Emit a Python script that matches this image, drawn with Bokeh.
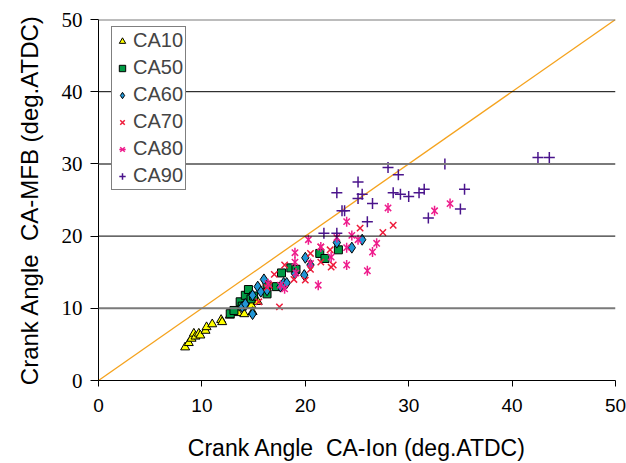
import math
from bokeh.plotting import figure
from bokeh.models import Range1d, Span, Legend, LegendItem, FixedTicker
from bokeh.embed import file_html
from bokeh.resources import INLINE

# Crank angle of ignition (x) vs crank angle of mass-fraction-burned points (y)
ca10_x = [8.38, 8.73, 9.0, 9.22, 9.38, 9.7, 9.85, 10.35, 10.45, 11.0, 11.86, 11.96, 12.7, 13.5, 14.1, 14.8, 14.9, 15.4]
ca10_y = [4.6, 5.2, 5.8, 6.5, 6.1, 6.5, 6.25, 6.9, 7.4, 7.8, 8.4, 8.1, 9.0, 9.35, 9.2, 10.4, 9.5, 10.9]

ca50_x = [12.74, 13.1, 13.7, 13.9, 14.2, 14.5, 14.75, 15.0, 16.3, 16.3, 17.2, 17.7, 18.6, 19.1, 21.4, 21.9, 23.2]
ca50_y = [9.26, 9.7, 10.9, 10.3, 11.8, 12.6, 11.3, 11.7, 12.0, 13.2, 13.0, 14.9, 15.6, 15.4, 17.6, 16.9, 18.1]

ca60_x = [13.9, 14.2, 14.9, 14.9, 15.4, 15.7, 16.0, 16.3, 17.6, 17.9, 18.2, 19.0, 19.9, 20.0, 20.5, 23.05, 24.5, 25.5]
ca60_y = [10.2, 10.6, 9.2, 11.8, 13.0, 12.3, 14.0, 12.5, 13.0, 13.5, 13.5, 14.8, 14.6, 17.0, 16.0, 19.1, 18.4, 19.5]

ca70_x = [15.5, 16.3, 16.5, 17.0, 17.5, 18.0, 18.9, 20.0, 20.5, 20.5, 21.5, 21.5, 22.4, 22.5, 22.7, 25.3, 27.5, 28.5]
ca70_y = [10.9, 12.9, 13.2, 14.7, 10.2, 16.0, 14.0, 13.9, 15.4, 17.6, 16.4, 18.5, 18.1, 15.7, 16.0, 21.1, 20.5, 21.5]

ca80_x = [16.4, 17.6, 18.0, 19.0, 19.0, 19.1, 20.3, 20.5, 21.25, 21.5, 22.5, 23.05, 24.0, 24.0, 24.0, 24.5, 25.1, 26.0, 26.5, 26.9, 28.0, 32.5, 34.0]
ca80_y = [13.4, 13.2, 12.7, 17.7, 16.4, 14.9, 19.5, 16.2, 13.2, 18.5, 17.1, 19.8, 22.0, 16.0, 18.4, 20.1, 19.5, 15.2, 17.8, 19.0, 23.9, 23.5, 24.5]

ca90_x = [21.8, 23.05, 23.05, 23.55, 23.8, 25.1, 25.1, 25.5, 26.0, 26.5, 28.0, 28.5, 29.0, 29.2, 30.0, 31.0, 31.5, 31.9, 33.5, 35.0, 35.4, 42.5, 43.6]
ca90_y = [20.4, 26.0, 20.4, 23.5, 23.5, 27.5, 25.2, 25.8, 22.0, 24.5, 29.5, 26.0, 28.5, 25.8, 25.5, 26.0, 26.5, 22.5, 30.0, 23.75, 26.5, 30.9, 30.9]

diag = [0, 50]
ticks = [0, 10, 20, 30, 40, 50]
grid_levels = [10, 20, 30, 40, 50]

p = figure(width=626, height=463, output_backend="svg", toolbar_location=None,
           x_range=Range1d(0, 50), y_range=Range1d(0, 50),
           min_border_left=98, min_border_right=11, min_border_top=19, min_border_bottom=83)
p.outline_line_color = None
p.xgrid.visible = False
p.ygrid.visible = False
p.background_fill_color = "white"
p.border_fill_color = "white"

# horizontal reference lines
for i, lvl in enumerate(grid_levels):
    if i % 2 == 0:
        p.add_layout(Span(location=lvl, dimension="width", line_color="#7a7a7a", line_width=2))
    else:
        p.add_layout(Span(location=lvl, dimension="width", line_color="black", line_width=1))

# y = x line
p.line(diag, diag, line_color="#F5A31E", line_width=1.3)

r10 = p.scatter(ca10_x, ca10_y, marker="triangle", size=9, fill_color="#FFFF00", line_color="black", line_width=1)
r50 = p.scatter(ca50_x, ca50_y, marker="square", size=8, fill_color="#009A44", line_color="black", line_width=1)
r60 = p.scatter(ca60_x, ca60_y, marker="diamond", size=11, fill_color="#2196D6", line_color="black", line_width=1)
r70 = p.scatter(ca70_x, ca70_y, marker="x", size=9, line_color="#EE1C3B", line_width=1.5)
r80a = p.scatter(ca80_x, ca80_y, marker="x", size=9, line_color="#EE1C8C", line_width=1.5)
r80b = p.scatter(ca80_x, ca80_y, marker="dash", size=10, angle=math.pi / 2, line_color="#EE1C8C", line_width=1.5)
r90 = p.scatter(ca90_x, ca90_y, marker="cross", size=11, line_color="#4A148C", line_width=1.5)

legend = Legend(items=[
    LegendItem(label="CA10", renderers=[r10]),
    LegendItem(label="CA50", renderers=[r50]),
    LegendItem(label="CA60", renderers=[r60]),
    LegendItem(label="CA70", renderers=[r70]),
    LegendItem(label="CA80", renderers=[r80a, r80b]),
    LegendItem(label="CA90", renderers=[r90]),
], location=(13, 190))
legend.label_text_font = "Liberation Sans"
legend.label_text_font_size = "20px"
legend.label_height = 20
legend.label_width = 50
legend.glyph_height = 20
legend.glyph_width = 16
legend.label_standoff = 3
legend.spacing = 4
legend.padding = 2
legend.margin = 0
legend.border_line_color = "black"
legend.border_line_width = 1
legend.background_fill_color = "white"
legend.background_fill_alpha = 1
p.add_layout(legend)

# axes
p.xaxis.ticker = FixedTicker(ticks=ticks)
p.yaxis.ticker = FixedTicker(ticks=ticks)
p.xaxis.minor_tick_line_color = None
p.yaxis.minor_tick_line_color = None
p.xaxis.major_tick_in = 0
p.xaxis.major_tick_out = 6
p.yaxis.major_tick_in = 0
p.yaxis.major_tick_out = 8
p.xaxis.axis_line_color = "black"
p.yaxis.axis_line_color = "black"

p.xaxis.major_label_text_font = "Liberation Sans"
p.xaxis.major_label_text_font_size = "19px"
p.xaxis.major_label_standoff = 12
p.yaxis.major_label_text_font = "Liberation Serif"
p.yaxis.major_label_text_font_size = "21px"
p.yaxis.major_label_standoff = 8

p.xaxis.axis_label = "Crank Angle\u00a0 CA-Ion (deg.ATDC)"
p.yaxis.axis_label = "Crank Angle\u00a0 CA-MFB (deg.ATDC)"
for ax in (p.xaxis[0], p.yaxis[0]):
    ax.axis_label_text_font = "Liberation Sans"
    ax.axis_label_text_font_style = "normal"
    ax.axis_label_text_color = "black"
    ax.major_label_text_color = "black"
p.xaxis.axis_label_text_font_size = "23px"
p.yaxis.axis_label_text_font_size = "24px"
p.xaxis.axis_label_standoff = 20
p.yaxis.axis_label_standoff = 16

open("out.html", "w").write(file_html(p, INLINE))
